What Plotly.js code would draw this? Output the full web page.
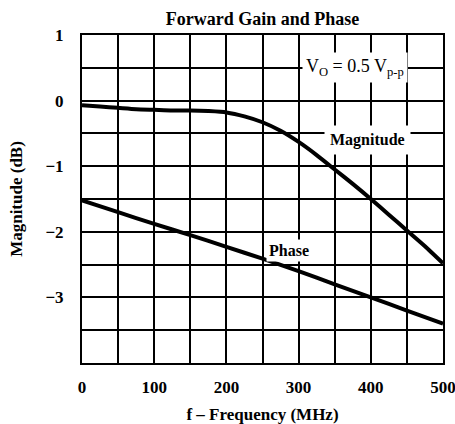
<!DOCTYPE html>
<html>
<head>
<meta charset="utf-8">
<script src="https://cdn.plot.ly/plotly-3.0.1.min.js"></script>
<style>html,body{margin:0;padding:0;background:#fff;}#chart{width:455px;height:424px;}</style>
</head>
<body>
<div id="chart"></div>
<script>
// Frequency (MHz)
var freq = [0, 25, 50, 75, 100, 125, 150, 175, 200, 225, 250, 275, 300, 325, 350, 375, 400, 425, 450, 475, 500];
// Magnitude (dB)
var magnitude = [-0.07, -0.09, -0.11, -0.13, -0.14, -0.15, -0.15, -0.16, -0.18, -0.24, -0.33, -0.46, -0.63, -0.83, -1.05, -1.27, -1.5, -1.74, -1.98, -2.22, -2.48];
// Phase curve (plotted on same scale)
var phaseFreq = [0, 50, 100, 150, 200, 250, 300, 350, 400, 450, 500];
var phase = [-1.52, -1.7, -1.88, -2.05, -2.23, -2.41, -2.6, -2.8, -3.0, -3.2, -3.4];

var xTickVals = [0, 100, 200, 300, 400, 500];
var xTickText = ['0', '100', '200', '300', '400', '500'];
var yTickVals = [1, 0, -1, -2, -3];
var yTickText = ['1', '0', '\u22121', '\u22122', '\u22123'];

var serif = 'Liberation Serif, Times New Roman, serif';

var traces = [
  {x: freq, y: magnitude, mode: 'lines', line: {color: '#000', width: 4, shape: 'spline', smoothing: 0.6}, hoverinfo: 'skip'},
  {x: phaseFreq, y: phase, mode: 'lines', line: {color: '#000', width: 4, shape: 'spline', smoothing: 0.6}, hoverinfo: 'skip'}
];

var layout = {
  width: 455, height: 424,
  margin: {l: 82, r: 12, t: 35, b: 61},
  paper_bgcolor: '#fff', plot_bgcolor: '#fff',
  showlegend: false,
  font: {family: serif, color: '#000'},
  title: {text: '<b>Forward Gain and Phase</b>', font: {family: serif, size: 18, color: '#000'}, x: 0.577, xanchor: 'center', y: 0.957, yanchor: 'middle'},
  xaxis: {
    range: [0, 500], tickvals: xTickVals, ticktext: xTickText, ticks: '', ticklabelstandoff: 8,
    ticklabeloverflow: 'allow',
    tickfont: {family: serif, size: 17, color: '#000', weight: 'bold'},
    showgrid: true, gridcolor: '#000', gridwidth: 2,
    minor: {dtick: 50, tick0: 0, showgrid: true, gridcolor: '#000', gridwidth: 2, ticks: ''},
    showline: true, linecolor: '#000', linewidth: 2, mirror: true, zeroline: false, fixedrange: true,
    title: {text: '<b>f \u2013 Frequency (MHz)</b>', font: {family: serif, size: 17, color: '#000'}, standoff: 12}
  },
  yaxis: {
    range: [-4, 1], tickvals: yTickVals, ticktext: yTickText, ticks: '', ticklabelstandoff: 13,
    ticklabeloverflow: 'allow',
    tickfont: {family: serif, size: 17, color: '#000', weight: 'bold'},
    showgrid: true, gridcolor: '#000', gridwidth: 2,
    minor: {dtick: 0.5, tick0: 0, showgrid: true, gridcolor: '#000', gridwidth: 2, ticks: ''},
    showline: true, linecolor: '#000', linewidth: 2, mirror: true, zeroline: false, fixedrange: true,
    title: {text: '<b>Magnitude (dB)</b>', font: {family: serif, size: 17, color: '#000'}, standoff: 18}
  },
  annotations: [
    {x: 378, y: 0.5, xref: 'x', yref: 'y', text: 'V<sub>O</sub> = 0.5 V<sub>p-p</sub>', showarrow: false,
     font: {family: serif, size: 18, color: '#000'}, bgcolor: '#fff', borderpad: 3},
    {x: 396, y: -0.6, xref: 'x', yref: 'y', text: 'Magnitude', showarrow: false,
     font: {family: serif, size: 16, color: '#000', weight: 'bold'}, bgcolor: '#fff', borderpad: 5},
    {x: 287, y: -2.28, xref: 'x', yref: 'y', text: 'Phase', showarrow: false,
     font: {family: serif, size: 16, color: '#000', weight: 'bold'}, bgcolor: '#fff', borderpad: 2}
  ]
};

Plotly.newPlot('chart', traces, layout, {staticPlot: true, displayModeBar: false});
</script>
</body>
</html>
